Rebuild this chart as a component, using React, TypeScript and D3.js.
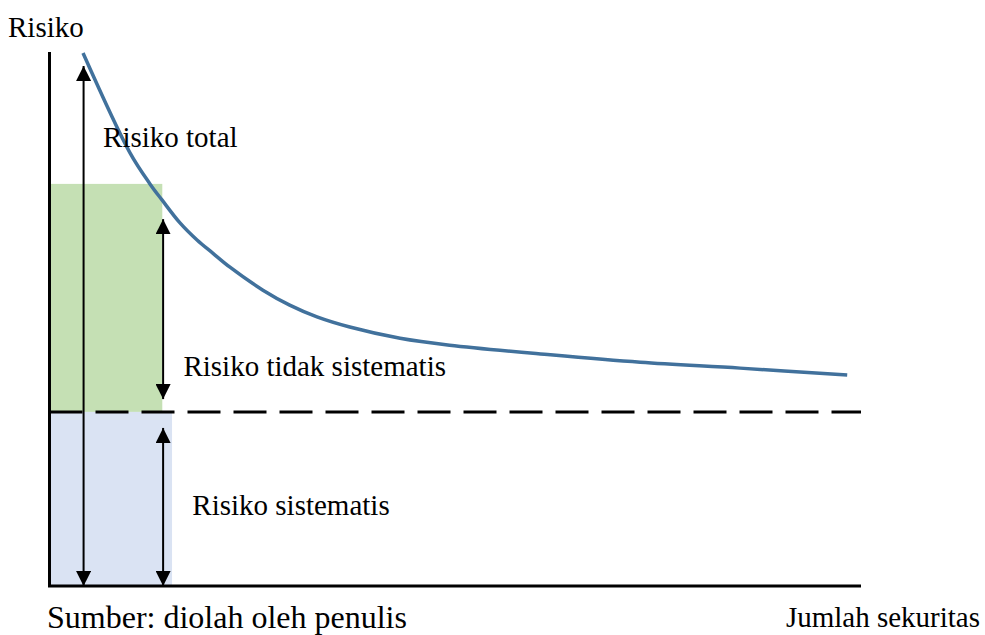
import { useEffect, useRef } from "react";
import * as d3 from "d3";

// risk curve (x = jumlah sekuritas, y = risiko), both on 0..100
const curveX = [4.13, 9.92, 12.38, 13.86, 16.08, 18.18, 20.15, 22.24, 26.3, 29.6, 32.96, 37.0, 43.2, 49.3, 61.7, 72.8, 85.1, 98.3];
const curveY = [99.8, 81.1, 75.3, 72.3, 68.0, 64.8, 62.3, 59.7, 55.4, 52.6, 50.4, 48.5, 46.4, 45.1, 43.3, 41.9, 40.8, 39.5];

// systematic risk level (dashed line) and the two shaded blocks
const systematicLevel = 32.6;
const blocks = [
  { name: "tidak sistematis", x1: 13.9, y0: systematicLevel, y1: 75.3, fill: "#c5e0b4" },
  { name: "sistematis", x1: 15.1, y0: 0, y1: systematicLevel, fill: "#dae3f3" },
];

// double-headed arrows
const arrows = [
  { name: "total", x: 4.2, y0: 0, y1: 97.4 },
  { name: "tidak sistematis", x: 14.0, y0: 35.0, y1: 68.7 },
  { name: "sistematis", x: 14.0, y0: 0, y1: 29.6 },
];

const labels = [
  { text: "Risiko total", x: 6.6, y: 82.2 },
  { text: "Risiko tidak sistematis", x: 16.5, y: 39.3 },
  { text: "Risiko sistematis", x: 17.6, y: 13.3 },
];

const yTitle = "Risiko";
const xTitle = "Jumlah sekuritas";
const source = "Sumber: diolah oleh penulis";

export default function App() {
  const width = 985;
  const height = 635;
  const marginLeft = 49.5;
  const marginRight = 124;
  const marginTop = 52;
  const marginBottom = 49;

  const ref = useRef(null);

  const x = d3.scaleLinear().domain([0, 100]).range([marginLeft, width - marginRight]);
  const y = d3.scaleLinear().domain([0, 100]).range([height - marginBottom, marginTop]);

  useEffect(() => {
    const svg = d3.select(ref.current);
    svg.selectAll("*").remove();

    const font = "'Liberation Serif', 'Times New Roman', serif";

    svg.append("defs").append("marker")
      .attr("id", "head")
      .attr("viewBox", "0 0 16 15")
      .attr("refX", 15)
      .attr("refY", 7.5)
      .attr("markerWidth", 16)
      .attr("markerHeight", 15)
      .attr("markerUnits", "userSpaceOnUse")
      .attr("orient", "auto-start-reverse")
      .append("path")
      .attr("d", "M0,0L15,7.5L0,15Z")
      .attr("fill", "#000");

    svg.append("g")
      .selectAll("rect")
      .data(blocks)
      .join("rect")
      .attr("x", x(0))
      .attr("y", d => y(d.y1))
      .attr("width", d => x(d.x1) - x(0))
      .attr("height", d => y(d.y0) - y(d.y1))
      .attr("fill", d => d.fill);

    // dashed systematic line
    svg.append("line")
      .attr("x1", x(0))
      .attr("x2", x(100))
      .attr("y1", y(systematicLevel))
      .attr("y2", y(systematicLevel))
      .attr("stroke", "#000")
      .attr("stroke-width", 3)
      .attr("stroke-dasharray", "33 13");

    svg.append("g")
      .selectAll("line")
      .data(arrows)
      .join("line")
      .attr("x1", d => x(d.x))
      .attr("x2", d => x(d.x))
      .attr("y1", d => y(d.y0))
      .attr("y2", d => y(d.y1))
      .attr("stroke", "#000")
      .attr("stroke-width", 2)
      .attr("marker-start", "url(#head)")
      .attr("marker-end", "url(#head)");

    const line = d3.line<number>()
      .x((_, i) => x(curveX[i]))
      .y(d => y(d))
      .curve(d3.curveCatmullRom.alpha(0.5));

    svg.append("path")
      .attr("d", line(curveY))
      .attr("fill", "none")
      .attr("stroke", "#41719c")
      .attr("stroke-width", 3.5);

    // axes (no ticks)
    svg.append("path")
      .attr("d", `M${x(0)},${y(100)}V${y(0)}H${x(100)}`)
      .attr("fill", "none")
      .attr("stroke", "#000")
      .attr("stroke-width", 3);

    svg.append("g")
      .selectAll("text")
      .data(labels)
      .join("text")
      .attr("x", d => x(d.x))
      .attr("y", d => y(d.y))
      .attr("font-family", font)
      .attr("font-size", 29)
      .text(d => d.text);

    svg.append("text")
      .attr("x", 8)
      .attr("y", 37)
      .attr("font-family", font)
      .attr("font-size", 29)
      .text(yTitle);

    svg.append("text")
      .attr("x", 980)
      .attr("y", 627)
      .attr("text-anchor", "end")
      .attr("font-family", font)
      .attr("font-size", 29)
      .text(xTitle);

    svg.append("text")
      .attr("x", 47)
      .attr("y", 628)
      .attr("font-family", font)
      .attr("font-size", 32)
      .text(source);
  }, [x, y]);

  return (
    <svg
      ref={ref}
      width={width}
      height={height}
      style={{ position: "absolute", left: 0, top: 0, background: "#fff" }}
    />
  );
}
